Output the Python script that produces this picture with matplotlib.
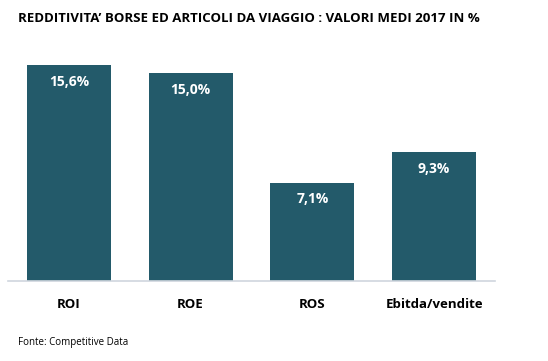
import matplotlib
matplotlib.use("Agg")
import matplotlib.pyplot as plt

categories = ["ROI", "ROE", "ROS", "Ebitda/vendite"]
values = [15.6, 15.0, 7.1, 9.3]
labels = ["15,6%", "15,0%", "7,1%", "9,3%"]

W, H = 548, 361
fig = plt.figure(figsize=(W/100, H/100), dpi=100)
ax = fig.add_axes([8/W, 1-281/H, (495-8)/W, (281-59.4)/H])
bar_color = "#235a6a"
bars = ax.bar(range(len(categories)), values, width=0.69, color=bar_color, zorder=2)
ax.set_xlim(-0.5, 3.5)
ax.set_ylim(0, 16)
for i, (v, lab) in enumerate(zip(values, labels)):
    ax.annotate(lab, xy=(i, v), xytext=(0, -12), textcoords="offset points",
                ha="center", va="center", color="white", fontsize=10,
                fontweight="bold", family="Open Sans")
for s in ["top", "right", "left"]:
    ax.spines[s].set_visible(False)
ax.spines["bottom"].set_color("#cfd6de")
ax.spines["bottom"].set_linewidth(1.2)
ax.set_yticks([])
ax.set_xticks(range(len(categories)))
ax.set_xticklabels(categories, fontsize=9.5, fontweight="bold", family="Open Sans")
ax.tick_params(axis="x", length=0, pad=12)

fig.text(18/W, 1-18/H, "REDDITIVITA’ BORSE ED ARTICOLI DA VIAGGIO : VALORI MEDI 2017 IN %",
         ha="left", va="center", fontsize=9.5, fontweight="bold", family="Open Sans")
fig.text(18/W, 1-343/H, "Fonte: Competitive Data", ha="left", va="center",
         fontsize=7, family="Open Sans")
fig.savefig("out.png", dpi=100)
